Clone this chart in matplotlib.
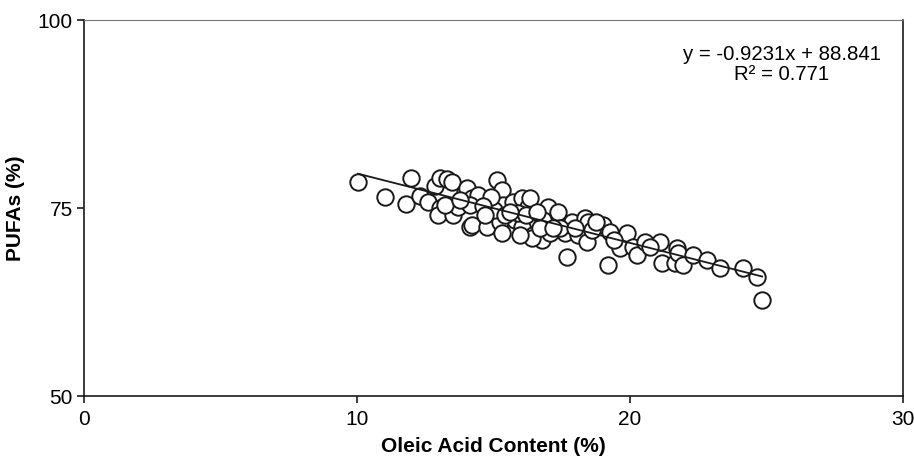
import numpy as np
import matplotlib
matplotlib.use('Agg')
import matplotlib.pyplot as plt

plt.rcParams['font.family'] = ['Liberation Sans', 'DejaVu Sans']

# oleic acid content (%) vs PUFAs (%)
oleic = [10.04, 11.03, 11.79, 11.98, 12.31, 12.60, 12.86, 13.04, 13.30, 13.48,
         13.04, 12.97, 13.52, 13.70, 13.96, 14.07, 14.14, 14.03, 14.21, 14.43,
         14.14, 14.21, 14.76, 15.13, 15.31, 15.24, 15.31, 15.35, 15.71, 16.04,
         16.26, 16.34, 15.79, 16.04, 16.45, 16.78, 16.89, 17.00, 17.25, 17.36,
         17.07, 17.62, 17.88, 18.10, 18.35, 18.42, 17.69, 19.01, 19.27, 19.19,
         19.63, 19.89, 20.11, 20.26, 20.55, 21.10, 21.17, 21.65, 21.72, 21.76,
         21.94, 22.31, 22.82, 23.30, 24.14, 24.65, 24.84, 16.41, 16.81, 18.46,
         15.02, 14.91, 15.42, 15.90, 16.19, 16.70, 17.44, 18.61, 18.75, 19.41,
         20.73, 13.22, 13.77, 14.62, 15.60, 16.59, 17.18, 17.99, 14.69, 15.97]
pufa = [78.46, 76.46, 75.53, 78.99, 76.60, 75.80, 77.93, 78.99, 78.86, 78.46,
        75.00, 74.07, 74.07, 75.13, 77.13, 75.80, 72.47, 77.66, 76.33, 76.73,
        75.40, 72.74, 72.47, 78.72, 77.39, 73.14, 71.68, 75.40, 75.80, 76.33,
        75.13, 76.33, 73.40, 72.47, 71.41, 70.74, 73.00, 75.13, 73.40, 74.47,
        71.68, 71.68, 73.14, 71.41, 73.67, 70.48, 68.48, 72.74, 71.81, 67.42,
        69.68, 71.68, 69.81, 68.75, 70.48, 70.48, 67.69, 67.69, 69.68, 69.02,
        67.42, 68.75, 68.09, 67.02, 67.02, 65.82, 62.77, 71.01, 73.40, 73.14,
        74.73, 76.46, 74.07, 74.34, 74.07, 72.34, 72.34, 72.07, 73.14, 70.74,
        69.81, 75.40, 76.06, 75.27, 74.47, 74.47, 72.34, 72.34, 74.07, 71.41]

slope = -0.9231
intercept = 88.841
r2 = 0.771

fig = plt.figure(figsize=(9.14, 4.58), dpi=100)
ax = fig.add_axes([0.092, 0.135, 0.896, 0.821])

ax.scatter(oleic, pufa, s=140, facecolors='white', edgecolors='#1a1a1a',
           linewidths=1.4, zorder=2)

xl = np.array([min(oleic), max(oleic)])
ax.plot(xl, slope * xl + intercept, color='#1a1a1a', lw=1.3, zorder=3)

ax.text(0.852, 0.883, f'y = {slope}x + {intercept}\nR² = {r2}',
        transform=ax.transAxes, ha='center', va='center',
        multialignment='center', fontsize=14.7, linespacing=1.05)

ax.set_xlim(0, 30)
ax.set_ylim(50, 100)
ax.set_xticks([0, 10, 20, 30])
ax.set_yticks([50, 75, 100])
ax.tick_params(axis='both', direction='out', length=5, width=1.2,
               labelsize=15, top=False, right=False, color='#1a1a1a')
ax.tick_params(axis='y', pad=3)
ax.tick_params(axis='x', pad=5)

for s in ax.spines.values():
    s.set_color('#1a1a1a')
    s.set_linewidth(1.2)
ax.spines['top'].set_color('#777777')
ax.spines['top'].set_linewidth(0.8)

ax.set_xlabel('Oleic Acid Content (%)', fontsize=15, fontweight='bold', labelpad=6)
ax.set_ylabel('PUFAs (%)', fontsize=15, fontweight='bold', labelpad=9)

plt.savefig('out.png', dpi=100)
